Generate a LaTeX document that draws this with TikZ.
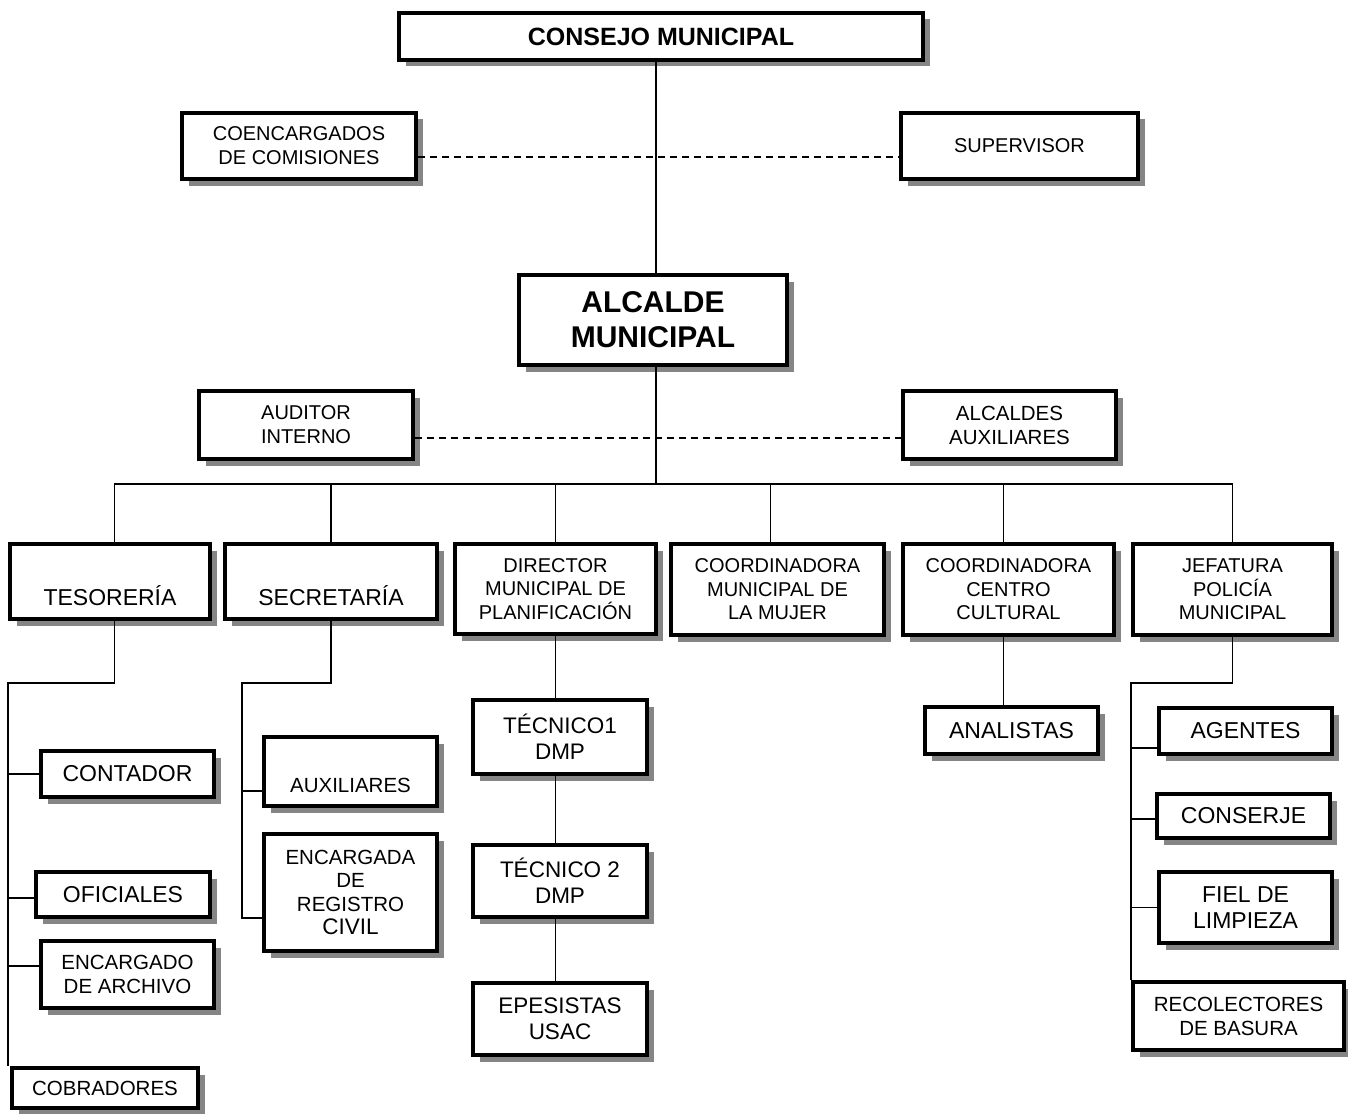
\documentclass[tikz,border=0pt]{standalone}
\usepackage{fontspec}
\setmainfont{Liberation Sans}
\usetikzlibrary{shadows}
\tikzset{
  box/.style={draw, line width=4pt, fill=white, inner sep=2pt, align=center,
     drop shadow={shadow xshift=6.5pt, shadow yshift=-6.5pt, fill=black!48, opacity=1}},
  conn/.style={line width=1.4pt},
  dashline/.style={line width=1.8pt, dash pattern=on 7pt off 5pt},
}
\newcommand\fs[2]{\fontsize{#1}{#2}\selectfont}
\newcommand\orgbox[7]{\node[box,#6,minimum width={#4-#2-4},minimum height={#5-#3-4}] (#1) at ({(#2+#4)/2},{(#3+#5)/2}) {#7};}
\begin{document}
\begin{tikzpicture}[x=1pt,y=-1pt]
\useasboundingbox (0,0) rectangle (1348,1113);
\fill[white] (0,0) rectangle (1348,1113);
% top
\orgbox{consejo}{397}{11}{925}{62}{font=\bfseries\fs{25}{30}}{CONSEJO MUNICIPAL}
\orgbox{coenc}{180}{111}{418}{181}{font=\fs{20}{24}}{COENCARGADOS\\DE COMISIONES}
\orgbox{sup}{899}{111}{1140}{181}{font=\fs{20}{24}}{SUPERVISOR}
\orgbox{alc}{517}{273}{789}{367}{font=\bfseries\fs{30}{35}}{ALCALDE\\MUNICIPAL}
\orgbox{aud}{197}{389}{415}{461}{font=\fs{20}{24}}{AUDITOR\\INTERNO}
\orgbox{aux}{901}{389}{1118}{461}{font=\fs{20.5}{24}}{ALCALDES\\AUXILIARES}
% second row
\orgbox{tes}{8}{542}{212}{621}{font=\fs{23}{28}}{\smash{\raisebox{-24pt}{TESORERÍA}}}
\orgbox{sec}{223}{542}{439}{621}{font=\fs{23}{28}}{\smash{\raisebox{-24pt}{SECRETARÍA}}}
\orgbox{dir}{453}{542}{658}{636}{font=\fs{20}{23.5}}{DIRECTOR\\MUNICIPAL DE\\PLANIFICACIÓN}
\orgbox{mujer}{669}{542}{886}{637}{font=\fs{20}{23.5}}{COORDINADORA\\MUNICIPAL DE\\LA MUJER}
\orgbox{cc}{901}{542}{1116}{637}{font=\fs{20}{23.5}}{COORDINADORA\\CENTRO\\CULTURAL}
\orgbox{jef}{1131}{542}{1334}{637}{font=\fs{20}{23.5}}{JEFATURA\\POLICÍA\\MUNICIPAL}
% tesoreria children
\orgbox{cont}{39}{749}{216}{799}{font=\fs{23}{28}}{CONTADOR}
\orgbox{ofi}{34}{870}{212}{919}{font=\fs{23}{28}}{OFICIALES}
\orgbox{arch}{39}{939}{216}{1010}{font=\fs{20.5}{24}}{ENCARGADO\\DE ARCHIVO}
\orgbox{cob}{10}{1066}{200}{1110}{font=\fs{20.5}{24}}{COBRADORES}
% secretaria children
\orgbox{auxil}{262}{735}{439}{808}{font=\fs{20.5}{24}}{\smash{\raisebox{-21pt}{AUXILIARES}}}
\orgbox{reg}{262}{832}{439}{953}{font=\fs{20.5}{23.5}}{ENCARGADA\\DE\\REGISTRO\\{\fs{22.5}{24}CIVIL}}
% director children
\orgbox{tec1}{471}{698}{649}{776}{font=\fs{22.5}{26}}{TÉCNICO1\\DMP}
\orgbox{tec2}{471}{843}{649}{919}{font=\fs{22.5}{26}}{TÉCNICO 2\\DMP}
\orgbox{epe}{471}{981}{649}{1057}{font=\fs{22.5}{26}}{EPESISTAS\\USAC}
% centro cultural child
\orgbox{ana}{923}{705}{1100}{756}{font=\fs{23}{28}}{ANALISTAS}
% jefatura children
\orgbox{age}{1157}{706}{1334}{756}{font=\fs{23}{28}}{AGENTES}
\orgbox{con}{1155}{792}{1332}{840}{font=\fs{23}{28}}{CONSERJE}
\orgbox{fiel}{1157}{870}{1334}{945}{font=\fs{23}{26}}{FIEL DE\\LIMPIEZA}
\orgbox{rec}{1131}{980}{1346}{1052}{font=\fs{20.5}{24}}{RECOLECTORES\\DE BASURA}

% connectors top
\coordinate (bus) at (656,484);
\draw[conn] (bus |- consejo.south) -- (bus |- alc.north);
\draw[dashline] ([yshift=-11pt]coenc.east) -- ([yshift=-11pt]sup.west);
\draw[dashline] ([yshift=-13pt]aud.east) -- ([yshift=-13pt]aux.west);
\draw[conn] (bus |- alc.south) -- (bus);
\coordinate (tesTop) at ([xshift=4.5pt]tes.north);
\coordinate (mujTop) at ([xshift=-7pt]mujer.north);
\coordinate (ccTop) at ([xshift=-5pt]cc.north);
\draw[conn] (tesTop) -- (tesTop |- bus) -- (jef.north |- bus) -- (jef.north);
\draw[conn] (sec.north) -- (sec.north |- bus);
\draw[conn] (dir.north) -- (dir.north |- bus);
\draw[conn] (mujTop) -- (mujTop |- bus);
\draw[conn] (ccTop) -- (ccTop |- bus);

% tesoreria branch
\coordinate (tesBot) at ([xshift=4.5pt]tes.south);
\coordinate (tj) at (8,683);
\draw[conn] (tesBot) |- (tj) -- (tj |- cob.north);
\draw[conn] (tj |- cont.west) -- (cont.west);
\coordinate (ofiB) at ([yshift=-3.5pt]ofi.west);
\draw[conn] (tj |- ofiB) -- (ofiB);
\coordinate (archB) at ([yshift=8.5pt]arch.west);
\draw[conn] (tj |- archB) -- (archB);

% secretaria branch
\coordinate (sj) at (242,683);
\coordinate (auxB) at ([yshift=-19.5pt]auxil.west);
\coordinate (regB) at ([yshift=-25.5pt]reg.west);
\draw[conn] (sec.south) |- (sj) -- (sj |- regB) -- (regB);
\draw[conn] (sj |- auxB) -- (auxB);

% director chain
\draw[conn] (dir.south) -- (dir.south |- tec1.north);
\draw[conn] (dir.south |- tec1.south) -- (dir.south |- tec2.north);
\draw[conn] (dir.south |- tec2.south) -- (dir.south |- epe.north);

% centro cultural
\coordinate (ccB) at ([xshift=-5pt]cc.south);
\draw[conn] (ccB) -- (ccB |- ana.north);

% jefatura branch
\coordinate (jj) at (1131,683);
\draw[conn] (jef.south) |- (jj) -- (jj |- rec.north);
\coordinate (ageB) at ([yshift=-17pt]age.west);
\draw[conn] (jj |- ageB) -- (ageB);
\coordinate (conB) at ([yshift=-3pt]con.west);
\draw[conn] (jj |- conB) -- (conB);
\draw[conn] (jj |- fiel.west) -- (fiel.west);
\end{tikzpicture}
\end{document}
